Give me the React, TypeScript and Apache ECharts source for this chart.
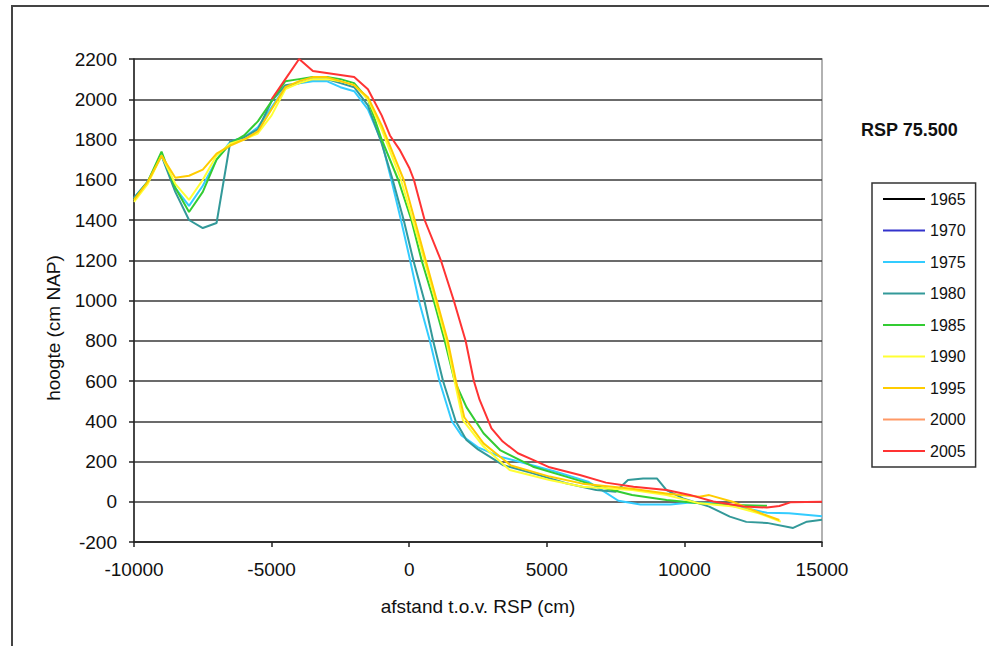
import React, { useEffect, useRef } from "react";
import * as echarts from "echarts";

const years = ["1965", "1970", "1975", "1980", "1985", "1990", "1995", "2000", "2005"];
const colors = ["#000000", "#3333cc", "#33ccff", "#339999", "#33cc33", "#ffff33", "#ffcc00", "#ff9966", "#ff3333"];

const xTicks = [-10000, -5000, 0, 5000, 10000, 15000];
const yTicks = [-200, 0, 200, 400, 600, 800, 1000, 1200, 1400, 1600, 1800, 2000, 2200];

const s1965: number[][] = [];
const s1970: number[][] = [];
const s2000: number[][] = [];

const s1975 = [
  [-10000, 1510], [-9500, 1590], [-9000, 1720], [-8500, 1560], [-8000, 1470], [-7500, 1570],
  [-7000, 1700], [-6500, 1790], [-6000, 1810], [-5500, 1860], [-5000, 1960], [-4500, 2060],
  [-4000, 2080], [-3500, 2090], [-3000, 2090], [-2500, 2060], [-2000, 2040], [-1500, 1950],
  [-1000, 1790], [-650, 1600], [-300, 1400], [0, 1220], [350, 1000], [750, 800], [1100, 600],
  [1550, 400], [1900, 330], [2500, 270], [3300, 224], [4000, 199], [5300, 150], [6500, 100],
  [7000, 58], [7600, 5], [8400, -14], [9500, -14], [10200, -4], [11200, -8], [12500, -40],
  [13000, -55], [13800, -57], [15000, -72],
];

const s1980 = [
  [-10000, 1510], [-9500, 1590], [-9000, 1720], [-8500, 1540], [-8000, 1400], [-7500, 1360],
  [-7000, 1385], [-6500, 1790], [-6000, 1810], [-5500, 1850], [-5000, 1990], [-4500, 2070],
  [-4000, 2080], [-3500, 2100], [-3000, 2100], [-2500, 2080], [-2000, 2060], [-1500, 1970],
  [-1000, 1780], [-600, 1600], [-200, 1400], [150, 1200], [550, 1000], [870, 800], [1230, 600],
  [1690, 400], [2080, 307], [2500, 260], [3400, 183], [4500, 141], [5700, 92], [6800, 58],
  [7500, 50], [7950, 108], [8500, 116], [9000, 116], [9350, 58], [9950, 17], [10900, -24],
  [11650, -74], [12250, -100], [13000, -105], [13950, -130], [14450, -99], [15000, -90],
];

const s1985 = [
  [-10000, 1500], [-9500, 1590], [-9000, 1740], [-8500, 1560], [-8000, 1440], [-7500, 1540],
  [-7000, 1700], [-6500, 1780], [-6000, 1820], [-5500, 1890], [-5000, 1990], [-4500, 2090],
  [-4000, 2100], [-3500, 2110], [-3000, 2110], [-2500, 2100], [-2000, 2080], [-1500, 2000],
  [-1000, 1800], [-400, 1600], [80, 1400], [450, 1200], [890, 1000], [1290, 800], [1650, 600],
  [2080, 470], [2700, 340], [3300, 257], [4500, 174], [5700, 125], [6900, 75], [8100, 34],
  [9350, 9], [10550, -8], [11800, -16], [13000, -20],
];

const s1990 = [
  [-10000, 1490], [-9500, 1580], [-9000, 1720], [-8500, 1580], [-8000, 1500], [-7500, 1600],
  [-7000, 1720], [-6500, 1780], [-6000, 1800], [-5500, 1830], [-5000, 1920], [-4500, 2050],
  [-4000, 2080], [-3500, 2100], [-3000, 2100], [-2500, 2090], [-2000, 2070], [-1500, 2000],
  [-1000, 1850], [-300, 1600], [550, 1200], [1350, 800], [1650, 600], [1950, 406], [2700, 274],
  [3650, 158], [5100, 108], [6300, 75], [8100, 58], [9350, 34], [10550, -8], [11800, -24],
  [12700, -57], [13500, -99],
];

const s1995 = [
  [-10000, 1500], [-9500, 1590], [-9000, 1720], [-8500, 1610], [-8000, 1620], [-7500, 1650],
  [-7000, 1730], [-6500, 1770], [-6000, 1800], [-5500, 1840], [-5000, 1950], [-4500, 2060],
  [-4000, 2090], [-3500, 2110], [-3000, 2110], [-2500, 2090], [-2000, 2070], [-1500, 2010],
  [-1000, 1870], [-200, 1600], [600, 1200], [1400, 800], [1700, 600], [2000, 420], [2700, 290],
  [3700, 180], [5100, 125], [6300, 90], [8100, 65], [9400, 40], [10550, 25], [10900, 33],
  [11750, 0], [12750, -56], [13450, -91],
];

const s2005 = [
  [-5000, 2000], [-4500, 2100], [-4000, 2200], [-3500, 2140], [-3000, 2130], [-2000, 2110],
  [-1500, 2050], [-1000, 1920], [-700, 1820], [-350, 1750], [0, 1660], [170, 1600], [560, 1400],
  [1150, 1200], [1620, 1000], [2050, 800], [2350, 600], [2560, 506], [2990, 365], [3400, 299],
  [3950, 241], [4500, 208], [5100, 171], [6200, 133], [7150, 95], [8150, 75], [9350, 58],
  [10200, 34], [11050, 1], [12150, -24], [13000, -29], [13450, -21], [13850, -3], [15000, 0],
];

const seriesData = [s1965, s1970, s1975, s1980, s1985, s1990, s1995, s2000, s2005];

const FONT = "'Liberation Sans', Arial, sans-serif";

export default function App() {
  const ref = useRef<HTMLDivElement>(null);
  useEffect(() => {
    if (!ref.current) return;
    const chart = echarts.init(ref.current, undefined, { renderer: "svg" });
    chart.setOption({
      animation: false,
      backgroundColor: "#ffffff",
      textStyle: { fontFamily: FONT },
      title: {
        text: "RSP 75.500",
        left: 856,
        top: 116,
        textStyle: { fontFamily: FONT, fontSize: 18, fontWeight: "bold", color: "#111" },
      },
      legend: {
        orient: "vertical",
        left: 872,
        top: 183,
        width: 106,
        padding: [8, 10, 8, 11],
        itemGap: 15.5,
        itemWidth: 42,
        itemHeight: 2,
        icon: "rect",
        borderColor: "#333",
        borderWidth: 1.5,
        data: years,
        textStyle: { fontFamily: FONT, fontSize: 16, color: "#111" },
      },
      grid: {
        left: 134,
        right: 167,
        top: 59,
        bottom: 104,
        show: true,
        borderColor: "#999999",
        borderWidth: 1.5,
      },
      xAxis: {
        type: "value",
        min: xTicks[0],
        max: xTicks[xTicks.length - 1],
        interval: 5000,
        axisLine: { show: true, onZero: false, lineStyle: { color: "#222", width: 1.5 } },
        axisTick: { show: true, length: 5, lineStyle: { color: "#222", width: 1.5 } },
        axisLabel: {
          fontSize: 19,
          color: "#111",
          margin: 18,
          fontFamily: FONT,
          formatter: (v: number) => String(v),
        },
        splitLine: { show: false },
      },
      yAxis: {
        type: "value",
        min: yTicks[0],
        max: yTicks[yTicks.length - 1],
        interval: 200,
        axisLine: { show: true, onZero: false, lineStyle: { color: "#222", width: 1.5 } },
        axisTick: { show: true, length: 5, lineStyle: { color: "#222", width: 1.5 } },
        axisLabel: {
          fontSize: 19,
          color: "#111",
          margin: 17,
          fontFamily: FONT,
          formatter: (v: number) => String(v),
        },
        splitLine: { show: true, lineStyle: { color: "#3a3a3a", width: 1.5 } },
      },
      graphic: [
        {
          type: "rect",
          shape: { x: 12, y: 6, width: 1100, height: 800 },
          style: { fill: "none", stroke: "#444", lineWidth: 2 },
          silent: true,
        },
        {
          type: "text",
          x: 53,
          y: 328,
          rotation: Math.PI / 2,
          style: {
            text: "hoogte (cm NAP)",
            fontSize: 19,
            fontFamily: FONT,
            fill: "#111",
            align: "center",
            verticalAlign: "middle",
          },
        },
        {
          type: "text",
          x: 478,
          y: 606,
          style: {
            text: "afstand t.o.v. RSP (cm)",
            fontSize: 19,
            fontFamily: FONT,
            fill: "#111",
            align: "center",
            verticalAlign: "middle",
          },
        },
      ],
      series: years.map((y, i) => ({
        name: y,
        type: "line",
        data: seriesData[i],
        showSymbol: false,
        symbol: "none",
        color: colors[i],
        lineStyle: { color: colors[i], width: 2 },
        itemStyle: { color: colors[i] },
      })),
    });
    return () => chart.dispose();
  }, []);
  return (
    <div
      ref={ref}
      style={{ position: "fixed", left: 0, top: 0, width: 989, height: 646 }}
    />
  );
}
